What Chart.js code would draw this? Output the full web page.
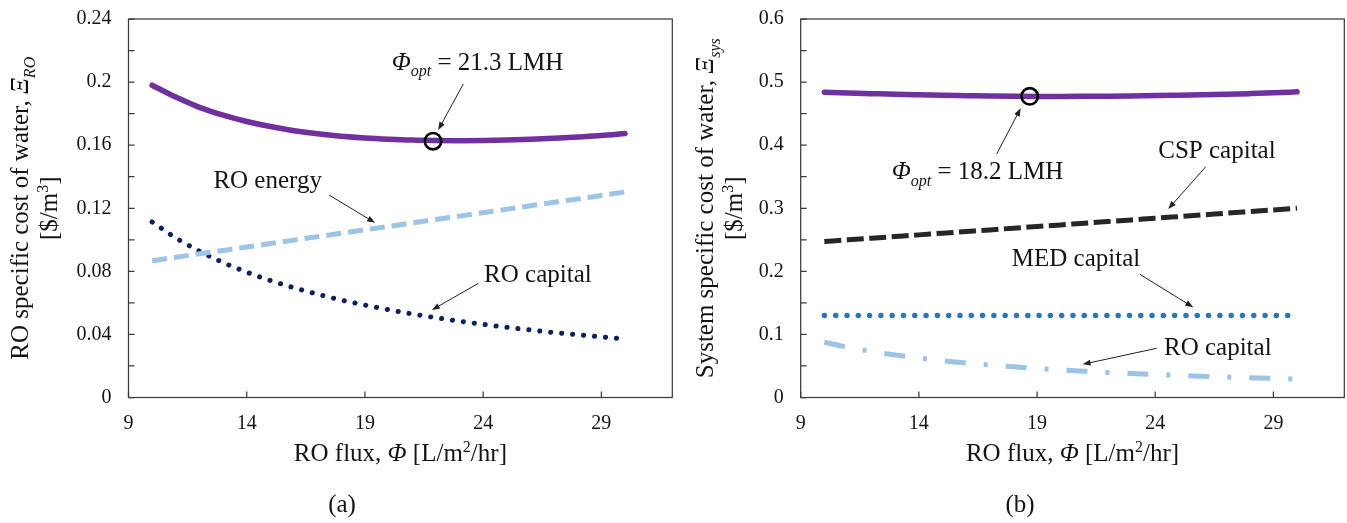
<!DOCTYPE html>
<html><head><meta charset="utf-8">
<script src="https://cdn.jsdelivr.net/npm/chart.js@4.4.1/dist/chart.umd.min.js"></script>
<style>
html,body{margin:0;padding:0;background:#fff;overflow:hidden;width:1347px;height:523px;}
#wa{position:absolute;left:0;top:0;width:680px;height:523px;}
#wb{position:absolute;left:680px;top:0;width:667px;height:523px;}
canvas{display:block;}
</style></head><body>
<div id="wa"><canvas id="ca" width="680" height="523"></canvas></div>
<div id="wb"><canvas id="cb" width="667" height="523"></canvas></div>
<script>
// ---------- data ----------
const flux = [10,11,12,13,14,15,16,17,18,19,20,21,22,23,24,25,26,27,28,29,30];

// (a) RO specific cost of water
const roTotalA   = [0.198,0.1905,0.184,0.179,0.175,0.1718,0.1692,0.1672,0.1657,0.1646,0.1638,0.1632,0.1629,0.1628,0.1629,0.1632,0.1637,0.1644,0.1652,0.1661,0.1674];
const roEnergyA  = [0.0867,0.0889,0.0911,0.0932,0.0954,0.0976,0.0998,0.1020,0.1041,0.1063,0.1085,0.1107,0.1129,0.1150,0.1172,0.1194,0.1216,0.1238,0.1259,0.1281,0.1303];
const roCapitalA = [0.1113,0.1012,0.0928,0.0856,0.0795,0.0742,0.0696,0.0655,0.0618,0.0586,0.0557,0.0530,0.0506,0.0484,0.0464,0.0445,0.0428,0.0412,0.0398,0.0384,0.0371];
const optFluxA = [21.88];
const optCostA = [0.1625];

// (b) System specific cost of water
const sysTotalB   = [0.484,0.4828,0.4817,0.4806,0.4798,0.4791,0.4785,0.4779,0.4775,0.4772,0.4772,0.4774,0.4777,0.4781,0.4786,0.4792,0.4799,0.4807,0.4817,0.4829,0.4845];
const cspCapitalB = [0.2473,0.2499,0.2526,0.2552,0.2578,0.2605,0.2631,0.2657,0.2684,0.2710,0.2736,0.2763,0.2789,0.2815,0.2842,0.2868,0.2894,0.2921,0.2947,0.2973,0.3000];
const medCapitalB = [0.13,0.13,0.13,0.13,0.13,0.13,0.13,0.13,0.13,0.13,0.13,0.13,0.13,0.13,0.13,0.13,0.13,0.13,0.13,0.13,0.13];
const roCapitalB  = [0.0876,0.0796,0.0730,0.0674,0.0626,0.0584,0.0548,0.0515,0.0487,0.0461,0.0438,0.0417,0.0398,0.0381,0.0365,0.0350,0.0337,0.0324,0.0313,0.0302,0.0292];
const optFluxB = [18.69];
const optCostB = [0.4775];

// ticks
const xTickValues  = [9,14,19,24,29];
const yTickValuesA = [0,0.02,0.04,0.06,0.08,0.1,0.12,0.14,0.16,0.18,0.2,0.22,0.24];
const yTickLabelsA = ['0','','0.04','','0.08','','0.12','','0.16','','0.2','','0.24'];
const yTickValuesB = [0,0.05,0.1,0.15,0.2,0.25,0.3,0.35,0.4,0.45,0.5,0.55,0.6];
const yTickLabelsB = ['0','','0.1','','0.2','','0.3','','0.4','','0.5','','0.6'];

// annotations (text anchors: left edge, baseline, in data units)
const notesA = [
  {segs:[{t:'\u03A6',it:1},{t:'opt',it:1,sub:1},{t:' = 21.3 LMH'}], x:20.13, y:0.2077},
  {segs:[{t:'RO energy'}], x:12.59, y:0.1327},
  {segs:[{t:'RO capital'}], x:24.04, y:0.0730}
];
const arrowsA = [[23.16,0.1988,22.10,0.1696],[17.48,0.1284,19.43,0.1108],[23.80,0.0724,21.83,0.0555]];
const notesB = [
  {segs:[{t:'\u03A6',it:1},{t:'opt',it:1,sub:1},{t:' = 18.2 LMH'}], x:12.85, y:0.3459},
  {segs:[{t:'CSP capital'}], x:24.13, y:0.3802},
  {segs:[{t:'MED capital'}], x:17.93, y:0.2089},
  {segs:[{t:'RO capital'}], x:24.37, y:0.0674}
];
const arrowsB = [[17.29,0.386,18.31,0.4585],[26.14,0.3659,24.55,0.2988],[23.35,0.1953,25.61,0.143],[24.06,0.078,20.93,0.0526]];

const xTitle = [{t:'RO flux, '},{t:'\u03A6',it:1},{t:' [L/m'},{t:'2',sup:1},{t:'/hr]'}];
const yTitleA1 = [{t:'RO specific cost of water, '},{t:'\u039E',it:1},{t:'RO',it:1,sub:1}];
const yTitleB1 = [{t:'System specific cost of water, '},{t:'\u039E',it:1},{t:'sys',it:1,sub:1}];
const yTitle2 = [{t:'[$/m'},{t:'3',sup:1},{t:']'}];

// ---------- drawing helpers ----------
const FAM = '"Liberation Serif","Times New Roman",serif';
const TXT = '#141414';
function segFont(s, size){ return (s.it?'italic ':'') + ((s.sub||s.sup)?Math.round(size*0.64):size) + 'px ' + FAM; }
function drawRich(ctx, segs, x, y, size, align){
  let w = 0;
  segs.forEach(s=>{ ctx.font = segFont(s,size); w += ctx.measureText(s.t).width; });
  let cx = align==='center' ? x - w/2 : x;
  ctx.textAlign='left'; ctx.textBaseline='alphabetic'; ctx.fillStyle=TXT;
  segs.forEach(s=>{
    ctx.font = segFont(s,size);
    const dy = s.sub ? size*0.26 : (s.sup ? -size*0.38 : 0);
    ctx.fillText(s.t, cx, y+dy);
    cx += ctx.measureText(s.t).width;
  });
}
function arrow(ctx, x1,y1,x2,y2){
  const a = Math.atan2(y2-y1,x2-x1), L=8, W=3;
  ctx.strokeStyle='#222'; ctx.lineWidth=1;
  ctx.beginPath(); ctx.moveTo(x1,y1); ctx.lineTo(x2-L*0.7*Math.cos(a), y2-L*0.7*Math.sin(a)); ctx.stroke();
  ctx.fillStyle='#222'; ctx.beginPath();
  ctx.moveTo(x2,y2);
  ctx.lineTo(x2-L*Math.cos(a)+W*Math.sin(a), y2-L*Math.sin(a)-W*Math.cos(a));
  ctx.lineTo(x2-L*Math.cos(a)-W*Math.sin(a), y2-L*Math.sin(a)+W*Math.cos(a));
  ctx.closePath(); ctx.fill();
}

const panelCfg = {
  ca:{notes:notesA, arrows:arrowsA, y1:yTitleA1, y1Off:100.2, label:'(a)', labelX:342},
  cb:{notes:notesB, arrows:arrowsB, y1:yTitleB1, y1Off:87.4, label:'(b)', labelX:340}
};

const decoPlugin = {
  id:'deco',
  afterDraw(chart){
    const cfg = panelCfg[chart.canvas.id];
    const ctx = chart.ctx, ca = chart.chartArea, xs = chart.scales.x, ys = chart.scales.y;
    ctx.save();
    ctx.setLineDash([]);
    ctx.strokeStyle = '#3c3c3c'; ctx.lineWidth = 1.25;
    ctx.beginPath();
    xs.ticks.forEach(t=>{ const p = xs.getPixelForValue(t.value); ctx.moveTo(p, ca.bottom); ctx.lineTo(p, ca.bottom-6); });
    ys.ticks.forEach(t=>{ const p = ys.getPixelForValue(t.value); ctx.moveTo(ca.left, p); ctx.lineTo(ca.left+6, p); });
    ctx.stroke();
    ctx.strokeRect(ca.left, ca.top, ca.right-ca.left, ca.bottom-ca.top);
    // annotations
    cfg.arrows.forEach(a=>arrow(ctx, xs.getPixelForValue(a[0]), ys.getPixelForValue(a[1]), xs.getPixelForValue(a[2]), ys.getPixelForValue(a[3])));
    cfg.notes.forEach(n=>drawRich(ctx, n.segs, xs.getPixelForValue(n.x), ys.getPixelForValue(n.y), 25, 'left'));
    // x title
    drawRich(ctx, xTitle, (ca.left+ca.right)/2, ca.bottom+63.5, 25, 'center');
    // y title (two lines, rotated)
    const cy = (ca.top+ca.bottom)/2;
    const bx1 = ca.left - cfg.y1Off;
    ctx.save(); ctx.translate(bx1, cy); ctx.rotate(-Math.PI/2); drawRich(ctx, cfg.y1, 0, 0, 25, 'center'); ctx.restore();
    ctx.save(); ctx.translate(bx1+29, cy); ctx.rotate(-Math.PI/2); drawRich(ctx, yTitle2, 0, 0, 25, 'center'); ctx.restore();
    // panel label
    drawRich(ctx, [{t:cfg.label}], cfg.labelX, 512, 25, 'center');
    ctx.restore();
  }
};

function pts(xs, ys){ return xs.map((x,i)=>({x:x, y:ys[i]})); }
function lineDs(label, ys, color, width, dash, cap){
  return {label:label, data:pts(flux, ys), borderColor:color, backgroundColor:color, borderWidth:width,
    borderDash:dash, borderCapStyle:cap, borderJoinStyle:'round', pointRadius:0, pointHoverRadius:0,
    fill:false, cubicInterpolationMode:'monotone'};
}
function optDs(xs, ys){
  return {label:'opt', data:pts(xs, ys), showLine:false, pointRadius:8.2, pointBorderWidth:2.6,
    pointBorderColor:'#000', pointBackgroundColor:'rgba(0,0,0,0)', borderColor:'#000', backgroundColor:'rgba(0,0,0,0)'};
}
function makeOptions(yMax, yVals, yLabels, yWidth, padRight){
  const tickFont = {family:FAM, size:20};
  return {
    responsive:false, animation:false, devicePixelRatio:1, events:[],
    layout:{autoPadding:false, padding:{left:0, right:padRight, top:19, bottom:0}},
    plugins:{legend:{display:false}, tooltip:{enabled:false}, title:{display:false}},
    scales:{
      x:{type:'linear', min:9, max:32,
        afterBuildTicks:s=>{ s.ticks = xTickValues.map(v=>({value:v})); },
        afterFit:s=>{ s.height = 125.5; s.paddingLeft = 0; s.paddingRight = 0; },
        grid:{display:false, drawTicks:false}, border:{display:false},
        ticks:{font:tickFont, color:TXT, padding:14, maxRotation:0, autoSkip:false, callback:(v)=>String(v)}},
      y:{type:'linear', min:0, max:yMax,
        afterBuildTicks:s=>{ s.ticks = yVals.map(v=>({value:v})); },
        afterFit:s=>{ s.width = yWidth; s.paddingTop = 0; s.paddingBottom = 0; },
        grid:{display:false, drawTicks:false}, border:{display:false},
        ticks:{font:tickFont, color:TXT, padding:17, autoSkip:false, callback:(v,i)=>yLabels[i]}}
    }
  };
}

function build(){
  new Chart(document.getElementById('ca'), {
    type:'line',
    data:{datasets:[
      optDs(optFluxA, optCostA),
      lineDs('RO total', roTotalA, '#7030a0', 5.5, [], 'round'),
      lineDs('RO energy', roEnergyA, '#9dc3e6', 5, [15,7], 'butt'),
      lineDs('RO capital', roCapitalA, '#0a215e', 5, [0.1,10.9], 'round')
    ]},
    options:makeOptions(0.24, yTickValuesA, yTickLabelsA, 128.5, 7.7),
    plugins:[decoPlugin]
  });
  new Chart(document.getElementById('cb'), {
    type:'line',
    data:{datasets:[
      optDs(optFluxB, optCostB),
      lineDs('System total', sysTotalB, '#7030a0', 5.5, [], 'round'),
      lineDs('CSP capital', cspCapitalB, '#262626', 5, [17,5.5], 'butt'),
      lineDs('MED capital', medCapitalB, '#2e75b6', 5.4, [0.1,11.2], 'round'),
      lineDs('RO capital', roCapitalB, '#9dc3e6', 5, [21,18,4,18], 'butt')
    ]},
    options:makeOptions(0.6, yTickValuesB, yTickLabelsB, 120.7, 2.7),
    plugins:[decoPlugin]
  });
}
Promise.all([
  document.fonts.load('20px "Liberation Serif"'),
  document.fonts.load('italic 25px "Liberation Serif"')
]).then(build, build);
</script>
</body></html>
